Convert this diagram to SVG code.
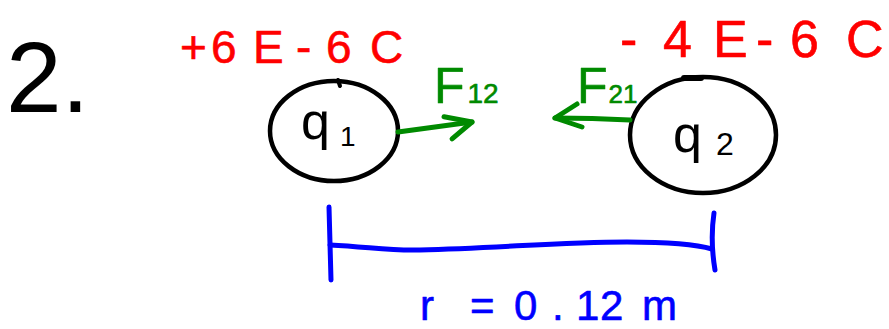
<svg xmlns="http://www.w3.org/2000/svg" width="889" height="329" viewBox="0 0 889 329">
<style>
  text { font-family: "Liberation Sans", "DejaVu Sans", sans-serif; stroke-linejoin: round; }
  .blk { fill: #000; }
  .red { fill: #ff0000; stroke: #ff0000; stroke-width: 0.6; }
  .grn { fill: #008a00; stroke: #008a00; stroke-width: 0.6; }
  .blu { fill: #0000ff; stroke: #0000ff; stroke-width: 0.6; }
  .circ { fill: none; stroke: #000; stroke-width: 4.5; }
  .force { fill: none; stroke: #008a00; stroke-width: 5; stroke-linecap: round; stroke-linejoin: round; }
  .dim { fill: none; stroke: #0000ff; stroke-width: 5; stroke-linecap: round; stroke-linejoin: round; }
</style>
<defs>
  <marker id="chev" viewBox="-32 -20 38 40" refX="0" refY="0" markerWidth="38" markerHeight="40" markerUnits="userSpaceOnUse" orient="auto" overflow="visible">
    <path d="M -27,-9 L 0,0 L -22,14" fill="none" stroke="#008a00" stroke-width="5" stroke-linecap="round" stroke-linejoin="round"/>
  </marker>
</defs>
<rect width="889" height="329" fill="#fff"/>

<g id="number">
  <text x="6" y="112" font-size="100" class="blk">2.</text>
</g>

<g id="charge1-label">
  <text x="180 211 253 296 326 370" y="63" font-size="46" class="red">+6E-6C</text>
</g>
<g id="charge2-label">
  <text x="620 663 713 756 790 830 846" y="57" font-size="52" class="red">-4E-6 C</text>
</g>

<g id="q1">
  <ellipse cx="334" cy="131" rx="64" ry="50" class="circ"/>
  <path d="M338,80 L340,86" stroke="#000" stroke-width="4" stroke-linecap="round"/>
  <text x="301" y="139" font-size="52" class="blk">q<tspan font-size="28" dy="7" dx="10">1</tspan></text>
</g>

<g id="q2">
  <ellipse cx="703" cy="135" rx="73" ry="58" class="circ"/>
  <path d="M684,78 L701,78" stroke="#000" stroke-width="6" stroke-linecap="round"/>
  <text x="673" y="152" font-size="52" class="blk">q<tspan font-size="32" dy="3" dx="14">2</tspan></text>
</g>

<g id="force-labels">
  <text x="434" y="103" font-size="50" class="grn">F<tspan font-size="28" dx="3">12</tspan></text>
  <text x="577" y="103" font-size="50" class="grn">F<tspan font-size="26" dx="1">21</tspan></text>
</g>

<g id="connectors">
  <path d="M398,132 Q435,127 472,122" class="force" marker-end="url(#chev)"/>
  <path d="M630,120 Q592,118 555,118" class="force" marker-end="url(#chev)"/>
  <path d="M329,207 L331,280" class="dim"/>
  <path d="M714,213 Q710,240 715,270" class="dim"/>
  <path d="M330,245 C370,247 390,251 420,250 C500,248 560,242 627,242 C670,242 695,244 712,249" class="dim"/>
</g>

<g id="distance-label">
  <text x="420 450 470 500 514 552 576 600 642" y="320" font-size="42" class="blu">r = 0.12m</text>
</g>
</svg>
